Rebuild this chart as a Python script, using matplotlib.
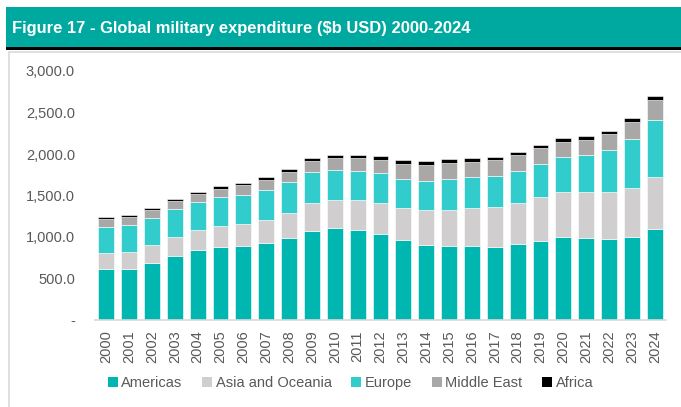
"""
Stacked bars of global military expenditure by region, 2000-2024.
"""
import numpy as np
import matplotlib
matplotlib.use("Agg")
import matplotlib.pyplot as plt
from matplotlib.patches import Rectangle, Patch
from matplotlib.ticker import FuncFormatter

plt.rcParams['font.family'] = ['Liberation Sans', 'DejaVu Sans']

years = [str(y) for y in range(2000, 2025)]

# regional spend, $b USD
americas = [612, 620, 688, 776, 840, 880, 896, 928, 992, 1072, 1104, 1088, 1032,
            960, 908, 888, 888, 880, 912, 956, 1000, 988, 976, 996, 1092]
asia_oceania = [192, 204, 216, 224, 240, 252, 264, 276, 300, 336, 340, 356, 376,
                388, 412, 440, 456, 480, 496, 520, 540, 556, 572, 600, 628]
europe = [316, 320, 328, 336, 340, 344, 348, 360, 368, 372, 360, 356, 360,
          356, 356, 368, 376, 372, 384, 404, 424, 440, 496, 580, 688]
middle_east = [100, 96, 92, 92, 100, 108, 116, 124, 128, 132, 148, 152, 164,
               180, 192, 200, 180, 192, 196, 192, 180, 184, 196, 208, 244]
africa = [24, 24, 28, 24, 28, 28, 32, 36, 36, 40, 40, 40, 44,
          48, 48, 48, 48, 44, 40, 40, 44, 44, 40, 48, 52]

series = [
    ('Americas', americas, '#00b6b0'),
    ('Asia and Oceania', asia_oceania, '#d0cece'),
    ('Europe', europe, '#33cccc'),
    ('Middle East', middle_east, '#a9a8a7'),
    ('Africa', africa, '#000000'),
]

TEXT_GREY = '#595959'
W, H = 681, 407

fig = plt.figure(figsize=(W / 100, H / 100), dpi=100)

# header band + black rule + panel outline
fig.patches.append(Rectangle((6 / W, 1 - 47 / H), 1, 40 / H, transform=fig.transFigure,
                             facecolor='#00a99f', edgecolor='none'))
fig.patches.append(Rectangle((6 / W, 1 - 49.5 / H), 1, 2.5 / H, transform=fig.transFigure,
                             facecolor='black', edgecolor='none'))
fig.patches.append(Rectangle((8.5 / W, -0.1), 1, 1 - 52 / H + 0.1, transform=fig.transFigure,
                             facecolor='none', edgecolor='#d9d9d9', linewidth=1.2))
fig.text(12 / W, 1 - 28 / H, 'Figure 17 - Global military expenditure ($b USD) 2000-2024',
         color='white', fontsize=11.9, fontweight='bold', va='center', ha='left')

ax = fig.add_axes([94.8 / W, 1 - 320 / H, (666.2 - 94.8) / W, (320 - 71) / H])

x = np.arange(len(years))
bottom = np.zeros(len(years))
for name, vals, col in series:
    vals = np.array(vals, dtype=float)
    ax.bar(x, vals, 0.69, bottom=bottom, color=col, label=name, edgecolor='white', linewidth=0.4)
    bottom += vals

ax.set_xlim(-0.5, len(years) - 0.5)
ax.set_ylim(0, 3000)
ax.set_yticks(np.arange(0, 3001, 500))
ax.yaxis.set_major_formatter(FuncFormatter(lambda v, p: '-' if v == 0 else f'{v:,.1f}'))
ax.set_xticks(x)
ax.set_xticklabels(years, rotation=90)

for s in ['top', 'right', 'left']:
    ax.spines[s].set_visible(False)
ax.spines['bottom'].set_color('#d9d9d9')
ax.spines['bottom'].set_linewidth(1.2)
ax.tick_params(axis='both', length=0, colors=TEXT_GREY, labelsize=10.5)
ax.tick_params(axis='x', pad=7.5)
ax.tick_params(axis='y', pad=14.3)

handles = [Patch(facecolor=c, label=n) for n, _, c in series]
fig.legend(handles=handles, loc='center', bbox_to_anchor=(350.5 / W, 1 - 383 / H), ncol=5,
           frameon=False, fontsize=10.5, handlelength=0.68, handleheight=0.68,
           handletextpad=0.25, columnspacing=1.35, labelcolor=TEXT_GREY)

fig.savefig('out.png', dpi=100)
